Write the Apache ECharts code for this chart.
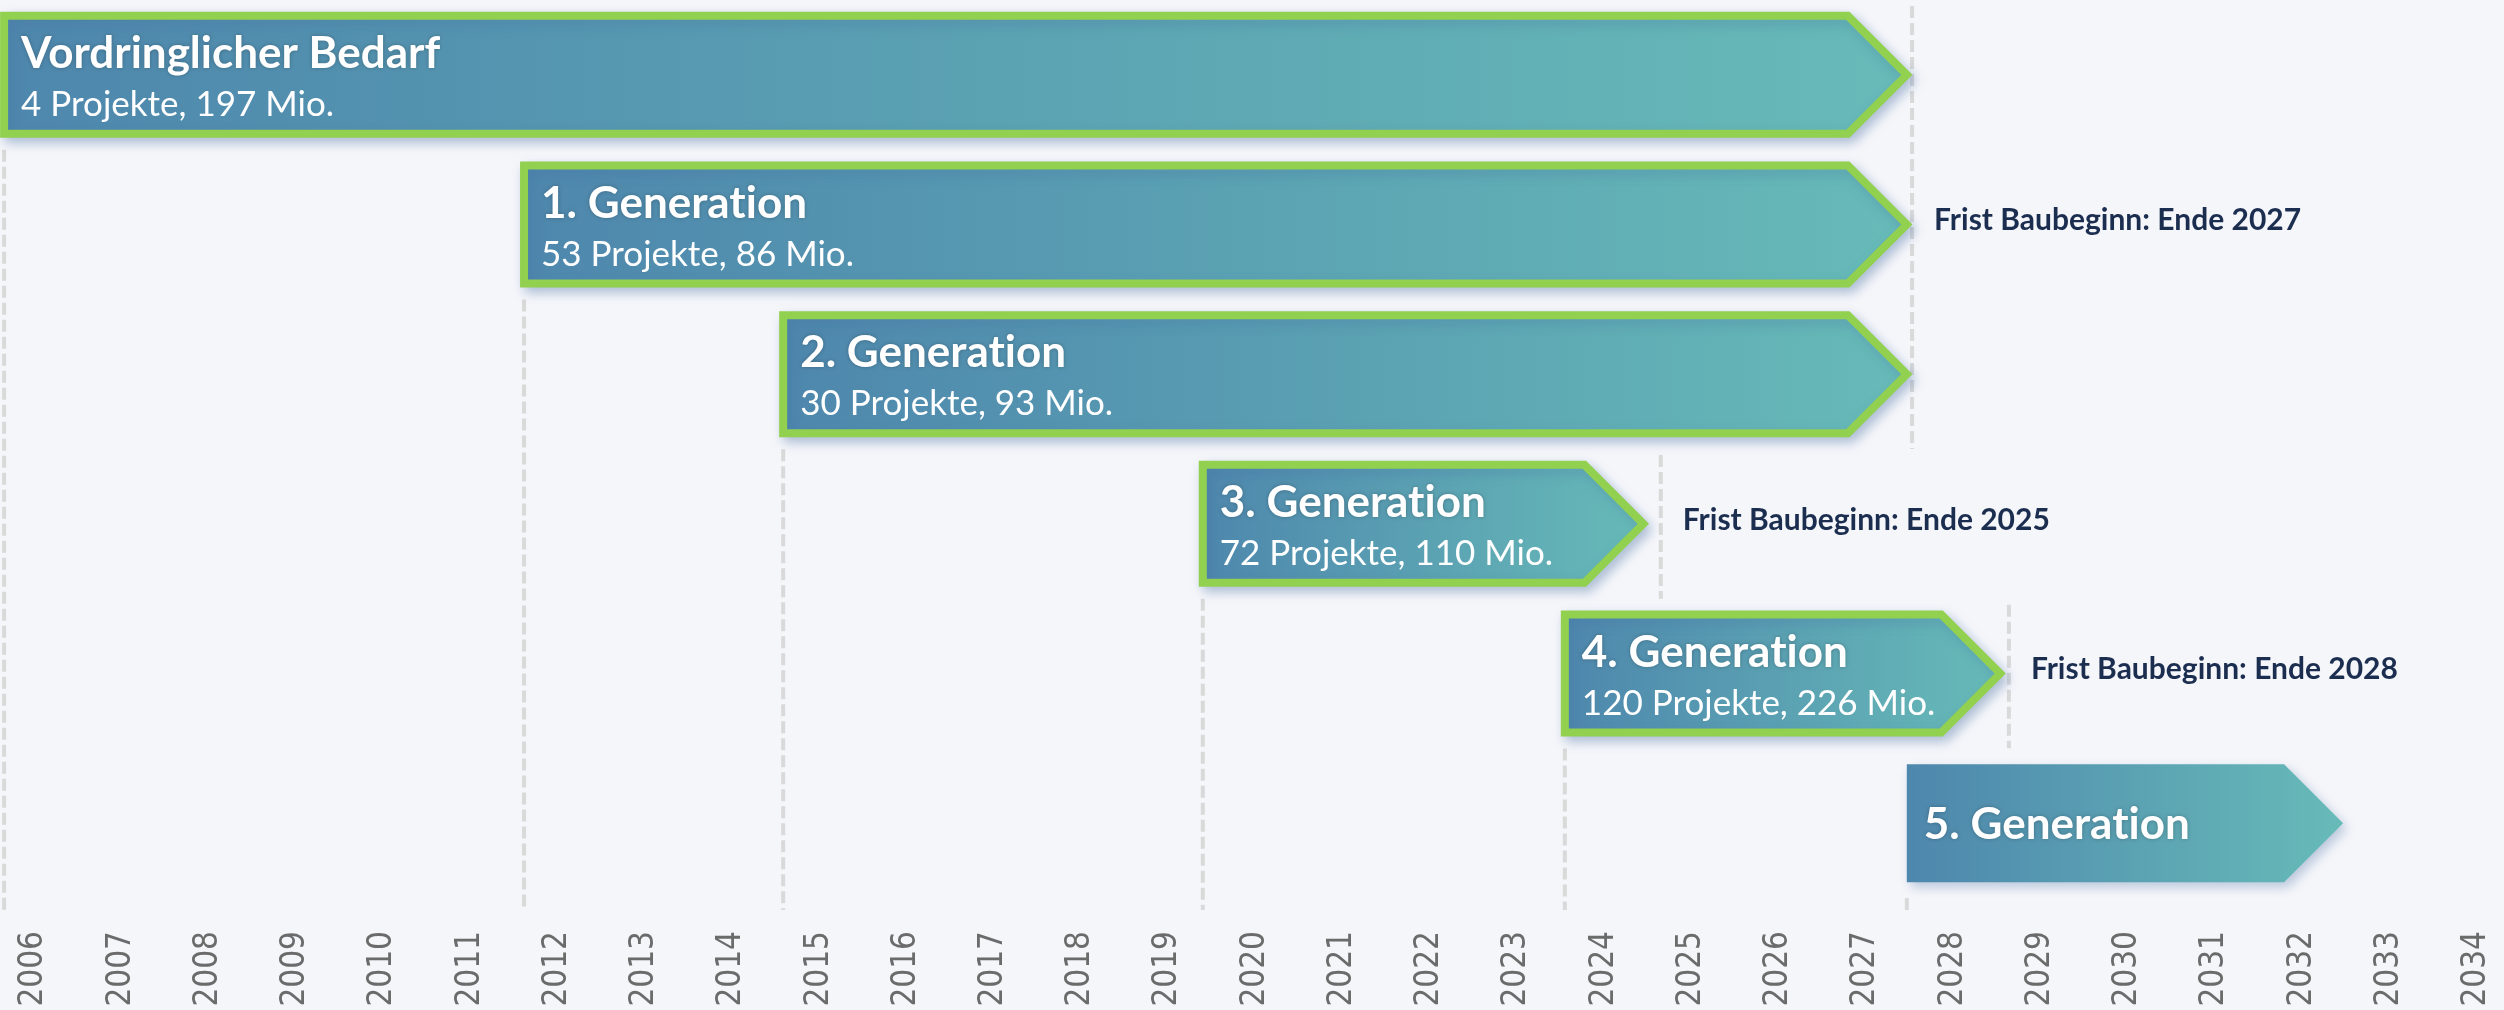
<!DOCTYPE html>
<html style="height: 100%">
<head>
<meta charset="utf-8">
</head>
<body style="height: 100%; margin: 0; background: #f5f6fa">
<div id="container" style="width: 2504px; height: 1010px"></div>
<script src="https://cdn.jsdelivr.net/npm/echarts@6/dist/echarts.min.js"></script>
<script type="text/javascript">
// Zeitleiste der Projektgenerationen
var years = [2006, 2007, 2008, 2009, 2010, 2011, 2012, 2013, 2014, 2015, 2016, 2017, 2018, 2019, 2020,
	2021, 2022, 2023, 2024, 2025, 2026, 2027, 2028, 2029, 2030, 2031, 2032, 2033, 2034];

var rowTitles = ['Vordringlicher Bedarf', '1. Generation', '2. Generation', '3. Generation', '4. Generation', '5. Generation'];
var rowSubtitles = ['4 Projekte, 197 Mio.', '53 Projekte, 86 Mio.', '30 Projekte, 93 Mio.', '72 Projekte, 110 Mio.', '120 Projekte, 226 Mio.', ''];
var barStart = [2005.66, 2011.62, 2014.59, 2019.40, 2023.55, 2027.47];
var barEnd = [2027.47, 2027.47, 2027.47, 2024.45, 2028.54, 2032.47];
var barBordered = [1, 1, 1, 1, 1, 0];

var deadlineYear = [2027.53, 2024.65, 2028.64];
var deadlineFirstRow = [0, 3, 4];
var deadlineLastRow = [2, 3, 4];
var deadlineLabelRow = [1, 3, 4];
var deadlineLabels = ['Frist Baubeginn: Ende 2027', 'Frist Baubeginn: Ende 2025', 'Frist Baubeginn: Ende 2028'];

var dashStyle = { stroke: '#d9d9d9', lineWidth: 4, lineDash: [12, 5] };

var dom = document.getElementById('container');
var myChart = echarts.init(dom);

// Lato zieht "ti" zu einer Ligatur zusammen, das Original nicht
function noLig(s) {
	return s.replace(/ti/g, 't\u200Ci');
}

function renderBar(params, api) {
	var row = api.value(0);
	var a = api.coord([api.value(1), row + 0.5]);
	var b = api.coord([api.value(2), row + 0.5]);
	var half = 59;
	var cy = a[1], x0 = a[0], tip = b[0], sh = tip - half;
	var bordered = api.value(3) === 1;
	var sub = rowSubtitles[row];
	var kids = [{
		type: 'polygon',
		shape: { points: [[x0, cy - half], [sh, cy - half], [tip, cy], [sh, cy + half], [x0, cy + half]] },
		style: {
			fill: new echarts.graphic.LinearGradient(0, 0, 1, 0, [
				{ offset: 0, color: '#4e87ad' },
				{ offset: 1, color: '#67bbb8' }
			]),
			stroke: bordered ? '#92d050' : null,
			lineWidth: bordered ? 8 : 0,
			lineJoin: 'miter',
			shadowColor: 'rgba(70,110,160,0.35)',
			shadowBlur: 12,
			shadowOffsetX: 4,
			shadowOffsetY: 5
		}
	}, {
		type: 'text',
		x: x0 + 17,
		y: sub ? cy - 21 : cy + 2,
		style: {
			text: noLig(rowTitles[row]),
			fontFamily: 'Lato',
			fontWeight: 'bold',
			fontSize: 44,
			fill: '#ffffff',
			align: 'left',
			verticalAlign: 'middle',
			textShadowColor: 'rgba(0,0,0,0.25)',
			textShadowBlur: 4
		}
	}];
	if (sub) {
		kids.push({
			type: 'text',
			x: x0 + 17,
			y: cy + 30,
			style: {
				text: sub,
				fontFamily: 'Lato',
				fontSize: 35,
				fill: '#ffffff',
				align: 'left',
				verticalAlign: 'middle'
			}
		});
	}
	return { type: 'group', children: kids };
}

function renderStartLine(params, api) {
	var p = api.coord([api.value(1), api.value(0) + 0.5]);
	var bottom = params.coordSys.y + params.coordSys.height + 12;
	return {
		type: 'line',
		shape: { x1: p[0], y1: p[1] + 75, x2: p[0], y2: bottom },
		style: dashStyle
	};
}

function renderDeadline(params, api) {
	var x = api.value(0);
	var i = api.value(3);
	var top = api.coord([x, api.value(1)]);
	var bot = api.coord([x, api.value(2) + 1]);
	var lab = api.coord([x, deadlineLabelRow[i] + 0.5]);
	return {
		type: 'group',
		children: [{
			type: 'line',
			shape: { x1: top[0], y1: top[1] + 6, x2: bot[0], y2: bot[1] },
			style: dashStyle
		}, {
			type: 'text',
			x: lab[0] + 22,
			y: lab[1] - 4,
			style: {
				text: deadlineLabels[i],
				fontFamily: 'Lato',
				fontWeight: 'bold',
				fontSize: 30,
				fill: '#1c2e50',
				align: 'left',
				verticalAlign: 'middle'
			}
		}]
	};
}

var option = {
	backgroundColor: '#f5f6fa',
	animation: false,
	grid: { left: 0, right: 0, top: -2, height: 900 },
	xAxis: {
		type: 'value',
		min: 2005.613,
		max: 2034.315,
		axisLine: { show: false },
		axisTick: { show: false },
		splitLine: { show: false },
		axisLabel: {
			customValues: years,
			rotate: 90,
			margin: 33,
			color: '#6b6b6b',
			fontSize: 33,
			fontFamily: 'DejaVu Sans Condensed, DejaVu Sans',
			formatter: function(v) {
				return String(v);
			}
		}
	},
	yAxis: { type: 'value', min: 0, max: 6, inverse: true, show: false },
	series: [{
		type: 'custom',
		z: 1,
		renderItem: renderStartLine,
		data: barStart.map(function(s, i) { return [i, s]; })
	}, {
		type: 'custom',
		z: 1,
		renderItem: renderDeadline,
		data: deadlineYear.map(function(d, i) { return [d, deadlineFirstRow[i], deadlineLastRow[i], i]; })
	}, {
		type: 'custom',
		z: 2,
		renderItem: renderBar,
		data: barStart.map(function(s, i) { return [i, s, barEnd[i], barBordered[i]]; })
	}]
};
myChart.setOption(option);
</script>
</body>
</html>
